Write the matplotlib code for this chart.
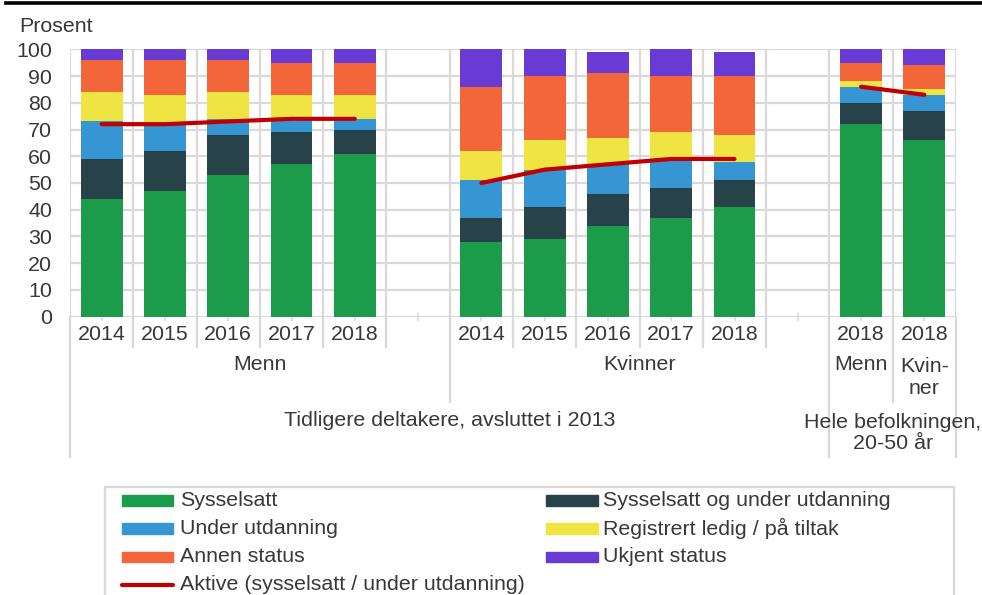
import matplotlib
matplotlib.use('Agg')
import matplotlib.pyplot as plt
import matplotlib.transforms as mtransforms
from matplotlib.patches import Rectangle
from matplotlib.lines import Line2D
import numpy as np

plt.rcParams['font.family'] = ['Liberation Sans', 'DejaVu Sans']

# data: Menn 2014-2018, Kvinner 2014-2018, Hele befolkningen Menn / Kvinner 2018
sysselsatt = [44, 47, 53, 57, 61, 28, 29, 34, 37, 41, 72, 66]
sysselsatt_utd = [15, 15, 15, 12, 9, 9, 12, 12, 11, 10, 8, 11]
under_utd = [14, 10, 6, 5, 4, 14, 14, 11, 11, 7, 6, 6]
ledig = [11, 11, 10, 9, 9, 11, 11, 10, 10, 10, 2, 2]
annen = [12, 13, 12, 12, 12, 24, 24, 24, 21, 22, 7, 9]
ukjent = [4, 4, 4, 5, 5, 14, 10, 8, 10, 9, 5, 6]
aktive = [72, 72, 73, 74, 74, 50, 55, 57, 59, 59, 86, 83]

years = ["2014", "2015", "2016", "2017", "2018"]
series_names = ["Sysselsatt", "Sysselsatt og under utdanning", "Under utdanning",
                "Registrert ledig / på tiltak", "Annen status", "Ukjent status"]
line_name = "Aktive (sysselsatt / under utdanning)"

colors = ["#1c9c4a", "#284249", "#3596d3", "#f0e443", "#f2663a", "#6a3bd4"]
line_color = "#c00000"
grid_color = "#d9d9d9"
text_color = "#383838"
fs = 15.4

# category slots (empty slots 5 and 11 separate the groups)
xpos = [0, 1, 2, 3, 4, 6, 7, 8, 9, 10, 12, 13]
n_slots = 14

W, H = 982, 595
fig = plt.figure(figsize=(W / 100, H / 100), dpi=100)
ax = fig.add_axes([70 / W, (H - 316.7) / H, (956 - 70) / W, (316.7 - 49.3) / H])

bottom = np.zeros(len(xpos))
for vals, col, name in zip([sysselsatt, sysselsatt_utd, under_utd, ledig, annen, ukjent],
                           colors, series_names):
    ax.bar(xpos, vals, bottom=bottom, width=0.66, color=col, label=name, zorder=3)
    bottom += np.array(vals)

# red line, one piece per group
for a, b in [(0, 5), (5, 10), (10, 12)]:
    ax.plot(xpos[a:b], aktive[a:b], color=line_color, lw=3, solid_capstyle='round', zorder=4)

ax.set_xlim(-0.5, n_slots - 0.5)
ax.set_ylim(0, 100)
ax.set_yticks(range(0, 101, 10))
ax.tick_params(axis='y', length=0, pad=13, labelsize=fs, labelcolor=text_color)
ax.set_xticks(range(n_slots))
ax.set_xticklabels([])
ax.tick_params(axis='x', direction='inout', length=6, width=1.2, color=grid_color)
ax.grid(axis='y', color=grid_color, lw=1.6, zorder=0)
ax.vlines(np.arange(-0.5, n_slots, 1), 0, 100, color=grid_color, lw=1.6, zorder=0)
for s in ax.spines.values():
    s.set_visible(False)

trans = mtransforms.blended_transform_factory(ax.transData, fig.transFigure)


def fy(py):
    return 1 - py / H


# category labels
for i, x in enumerate(xpos):
    lab = years[i % 5] if i < 10 else "2018"
    ax.text(x, fy(334), lab, transform=trans, ha='center', va='center',
            fontsize=fs, color=text_color)
ax.text(2.5, fy(365), "Menn", transform=trans, ha='center', va='center', fontsize=fs, color=text_color)
ax.text(8.5, fy(365), "Kvinner", transform=trans, ha='center', va='center', fontsize=fs, color=text_color)
ax.text(12, fy(365), "Menn", transform=trans, ha='center', va='center', fontsize=fs, color=text_color)
ax.text(13, fy(377.5), "Kvin-\nner", transform=trans, ha='center', va='center',
        fontsize=fs, color=text_color, linespacing=1.15)
ax.text(5.5, fy(420), "Tidligere deltakere, avsluttet i 2013", transform=trans,
        ha='center', va='center', fontsize=fs, color=text_color)
ax.text(12.5, fy(433), "Hele befolkningen,\n20-50 år", transform=trans, ha='center',
        va='center', fontsize=fs, color=text_color, linespacing=1.1)

# separators below the axis
for b in [0.5, 1.5, 2.5, 3.5, 4.5, 6.5, 7.5, 8.5, 9.5, 10.5]:
    ax.plot([b, b], [fy(317), fy(347)], transform=trans, clip_on=False, color=grid_color, lw=1.6)
for b in [5.5, 12.5]:
    ax.plot([b, b], [fy(317), fy(402)], transform=trans, clip_on=False, color=grid_color, lw=1.6)
for b in [-0.5, 11.5, 13.5]:
    ax.plot([b, b], [fy(317), fy(457)], transform=trans, clip_on=False, color=grid_color, lw=1.6)

# title strip and axis title
fig.add_artist(Line2D([6 / W, 1], [fy(3.3), fy(3.3)], color='black', lw=2.6))
fig.text(19 / W, fy(27), "Prosent", ha='left', va='center', fontsize=fs, color=text_color)

# legend
fig.add_artist(Rectangle((105 / W, fy(600)), (954 - 105) / W, (600 - 486.7) / H,
                         transform=fig.transFigure, fill=False, edgecolor=grid_color, lw=1.6))
rows = [500.5, 528.5, 557, 585]
col1 = [(colors[0], series_names[0]), (colors[2], series_names[2]), (colors[4], series_names[4])]
col2 = [(colors[1], series_names[1]), (colors[3], series_names[3]), (colors[5], series_names[5])]
for (col, name), ry in zip(col1, rows):
    fig.add_artist(Rectangle((122 / W, fy(ry + 5.3)), 51 / W, 10.6 / H,
                             transform=fig.transFigure, color=col))
    fig.text(180 / W, fy(ry), name, ha='left', va='center', fontsize=fs, color=text_color)
for (col, name), ry in zip(col2, rows):
    fig.add_artist(Rectangle((546 / W, fy(ry + 5.3)), 52 / W, 10.6 / H,
                             transform=fig.transFigure, color=col))
    fig.text(603 / W, fy(ry), name, ha='left', va='center', fontsize=fs, color=text_color)
fig.add_artist(Line2D([122 / W, 173 / W], [fy(rows[3]), fy(rows[3])], color=line_color,
                      lw=3, solid_capstyle='round'))
fig.text(180 / W, fy(rows[3]), line_name, ha='left', va='center', fontsize=fs, color=text_color)

fig.savefig("out.png", dpi=100)
